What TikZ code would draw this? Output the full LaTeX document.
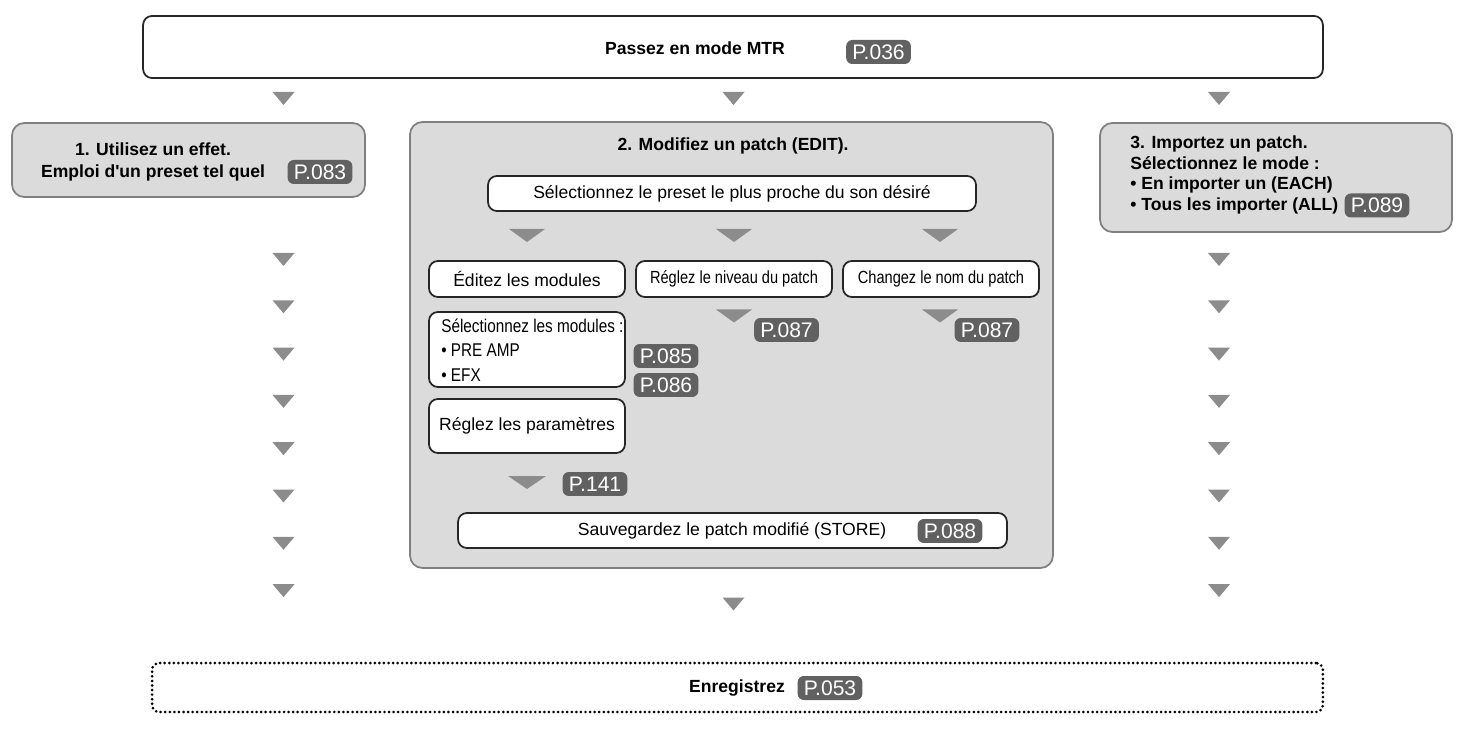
\documentclass[tikz,border=0pt]{standalone}
\usepackage{fontspec}
\setmainfont{Liberation Sans}[Ligatures=TeXOff]
\newfontfamily\narrowfont[FakeStretch=0.83]{Liberation Sans}
\usetikzlibrary{positioning}
\tikzset{every node/.append style={execute at begin node={\hyphenpenalty=10000\exhyphenpenalty=10000\relax}}}

\begin{document}
\begin{tikzpicture}[x=0.02cm,y=-0.02cm,
  wb/.style={draw=black!85,line width=1pt,rounded corners=5pt,fill=white,inner sep=0pt},
  gb/.style={draw=black!50,line width=1pt,rounded corners=7pt,fill=black!14,inner sep=0pt},
  bt/.style={font=\bfseries\fontsize{10}{13}\selectfont},
  nt/.style={font=\narrowfont\fontsize{10}{12}\selectfont},
  pg/.style={fill=black!62,text=white,rounded corners=3.5pt,inner xsep=3.5pt,inner ysep=0pt,minimum height=0.48cm,font=\fontsize{12}{12}\selectfont},
  pics/dn/.style={code={\fill[black!45] (-#1,-6.5)--(#1,-6.5)--(0,6.5)--cycle;}}]
  \useasboundingbox (0,0) rectangle (1467,729);

  % entree
  \node[wb,minimum width=23.6cm,minimum height=1.24cm](mtr) at (733,47) {};
  \node[bt](mtrt) at (695,48) {Passez en mode MTR};
  \node[pg](p036) at (878.5,52) {P.036};
  \foreach \x in {283.5,733.5,1219} \pic at (\x,98.5) {dn=11};

  % 1
  \node[gb,minimum width=7.06cm,minimum height=1.48cm](use) at (188.5,160) {};
  \node[bt,align=center](uset) at (153,162) {1. Utilisez un effet.\\ Emploi d'un preset tel quel};
  \node[pg](p083) at (320,172) {P.083};

  % 2
  \node[gb,minimum width=12.86cm,minimum height=8.92cm](edit) at (731.5,345) {};
  \node[bt](editt) at (733,146) {2. Modifiez un patch (EDIT).};
  \node[wb,minimum width=9.76cm,minimum height=0.70cm](sel) at (732,193.5) {Sélectionnez le preset le plus proche du son désiré};
  \foreach \x in {527,734,940} \pic at (\x,235.5) {dn=18};
  \node[wb,minimum width=3.92cm,minimum height=0.72cm](mod) at (527,279) {Éditez les modules};
  \node[wb,nt,minimum width=3.92cm,minimum height=0.72cm](lvl) at (734,279) {Réglez le niveau du patch};
  \node[wb,nt,minimum width=3.92cm,minimum height=0.72cm](nom) at (941,279) {Changez le nom du patch};
  \pic at (734,316) {dn=18};
  \pic at (940,316) {dn=18};
  \node[pg](p087a) at (786.5,330) {P.087};
  \node[pg](p087b) at (987,330) {P.087};
  \node[wb,minimum width=3.92cm,minimum height=1.5cm](smod) at (527,349.5) {};
  \node[font=\narrowfont\fontsize{10.5}{14}\selectfont,align=left,anchor=west,inner sep=0pt](smodt) at (441,350) {Sélectionnez les modules :\\ • PRE AMP\\ • EFX};
  \node[pg](p085) at (666,356) {P.085};
  \node[pg](p086) at (666,385) {P.086};
  \node[wb,minimum width=3.92cm,minimum height=1.08cm](par) at (527,426) {Réglez les paramètres};
  \pic at (527,482.5) {dn=19};
  \node[pg](p141) at (595,484) {P.141};
  \node[wb,minimum width=10.98cm,minimum height=0.70cm](sto) at (732.5,530.5) {};
  \node(stot) at (732,531) {Sauvegardez le patch modifié (STORE)};
  \node[pg](p088) at (950,531) {P.088};

  % 3
  \node[gb,minimum width=7.04cm,minimum height=2.18cm](imp) at (1276,177.5) {};
  \node[bt,font=\bfseries\fontsize{10}{11.8}\selectfont,align=left,anchor=west,inner sep=0pt](impt) at (1130,175) {3. Importez un patch.\\ Sélectionnez le mode :\\ • En importer un (EACH)\\ • Tous les importer (ALL)};
  \node[pg](p089) at (1377,205.5) {P.089};

  % colonnes
  \foreach \k in {0,...,7}{
    \pic at (283.5,{259.5+47.3*\k}) {dn=11};
    \pic at (1219,{259.5+47.3*\k}) {dn=11};
  }
  \pic at (733.5,604) {dn=11};

  % sortie
  \node[draw,line width=1.7pt,dash pattern=on 0pt off 2.6pt,line cap=round,rounded corners=4pt,minimum width=23.42cm,minimum height=0.98cm](rec) at (737.5,687.5) {};
  \node[bt](rect) at (737,688) {Enregistrez};
  \node[pg](p053) at (830,688) {P.053};
\end{tikzpicture}
\end{document}
